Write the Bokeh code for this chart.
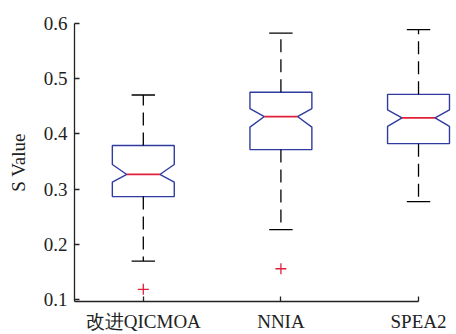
from bokeh.plotting import figure
from bokeh.models import FixedTicker, Range1d, ColumnDataSource
from bokeh.embed import file_html
from bokeh.resources import INLINE

# ---- data ----
categories = ["改进QICMOA", "NNIA", "SPEA2"]
positions = [1, 2, 3]
upper_whisker = [0.4705, 0.5826, 0.5890]
q3 = [0.3790, 0.4754, 0.4717]
median = [0.3266, 0.4315, 0.4290]
q1 = [0.2865, 0.3716, 0.3824]
lower_whisker = [0.1696, 0.2265, 0.2775]
notch_hi = [0.3446, 0.4459, 0.4435]
notch_lo = [0.3128, 0.4124, 0.4135]
outlier_pos = [1, 2]
outlier_val = [0.1185, 0.1558]
y_ticks = [0.1, 0.2, 0.3, 0.4, 0.5, 0.6]

BOX_HALF = 0.225
NOTCH_HALF = 0.12
CAP_HALF = 0.085

BLUE = "#2f3b9e"
RED = "#e0203a"
FONT = "Liberation Serif"

p = figure(width=456, height=334, output_backend="svg", toolbar_location=None,
           x_range=Range1d(0.5, 3.276), y_range=Range1d(0.0965, 0.6),
           min_border_left=74, min_border_right=0, min_border_top=23,
           min_border_bottom=31)
p.outline_line_color = None
p.grid.visible = False
p.background_fill_color = "white"

# notched boxes
xs, ys = [], []
for x, a, b, m, nl, nh in zip(positions, q1, q3, median, notch_lo, notch_hi):
    xs.append([x - BOX_HALF, x + BOX_HALF, x + BOX_HALF, x + NOTCH_HALF, x + BOX_HALF,
               x + BOX_HALF, x - BOX_HALF, x - BOX_HALF, x - NOTCH_HALF, x - BOX_HALF])
    ys.append([a, a, nl, m, nh, b, b, nh, m, nl])
p.patches(xs, ys, fill_color=None, line_color=BLUE, line_width=1.4)

src = ColumnDataSource(dict(
    x=positions, q1=q1, q3=q3, med=median, lw=lower_whisker, uw=upper_whisker,
    l=[x - NOTCH_HALF for x in positions], r=[x + NOTCH_HALF for x in positions],
    cl=[x - CAP_HALF for x in positions], cr=[x + CAP_HALF for x in positions]))

# whiskers
p.segment(x0="x", y0="q3", x1="x", y1="uw", source=src, line_color="black",
          line_width=1.3, line_dash="13 7")
p.segment(x0="x", y0="q1", x1="x", y1="lw", source=src, line_color="black",
          line_width=1.3, line_dash="13 7")
# caps
p.segment(x0="cl", y0="uw", x1="cr", y1="uw", source=src, line_color="black", line_width=1.3)
p.segment(x0="cl", y0="lw", x1="cr", y1="lw", source=src, line_color="black", line_width=1.3)
# medians
p.segment(x0="l", y0="med", x1="r", y1="med", source=src, line_color=RED, line_width=1.8)
# outliers
p.scatter(outlier_pos, outlier_val, marker="cross", size=11, line_color=RED, line_width=1.3)

# axes
xa = p.xaxis[0]
xa.ticker = FixedTicker(ticks=positions)
xa.major_label_overrides = {pos: c for pos, c in zip(positions, categories)}
xa.bounds = (0.5, 3.0)
ya = p.yaxis[0]
ya.ticker = FixedTicker(ticks=y_ticks)
ya.axis_label = "S Value"
for ax in (xa, ya):
    ax.major_tick_in = 5
    ax.major_tick_out = 0
    ax.minor_tick_in = 0
    ax.minor_tick_out = 0
    ax.axis_line_width = 1.3
    ax.major_tick_line_width = 1.3
    ax.axis_line_color = "#222222"
    ax.major_tick_line_color = "#222222"
    ax.major_label_text_font = FONT
    ax.major_label_text_font_size = "19px"
    ax.major_label_text_color = "#222222"
xa.major_label_standoff = 9
ya.major_label_standoff = 7
ya.axis_label_text_font = FONT
ya.axis_label_text_font_size = "19px"
ya.axis_label_text_font_style = "normal"
ya.axis_label_text_color = "#222222"
ya.axis_label_standoff = 12

open("out.html", "w").write(file_html(p, INLINE))
